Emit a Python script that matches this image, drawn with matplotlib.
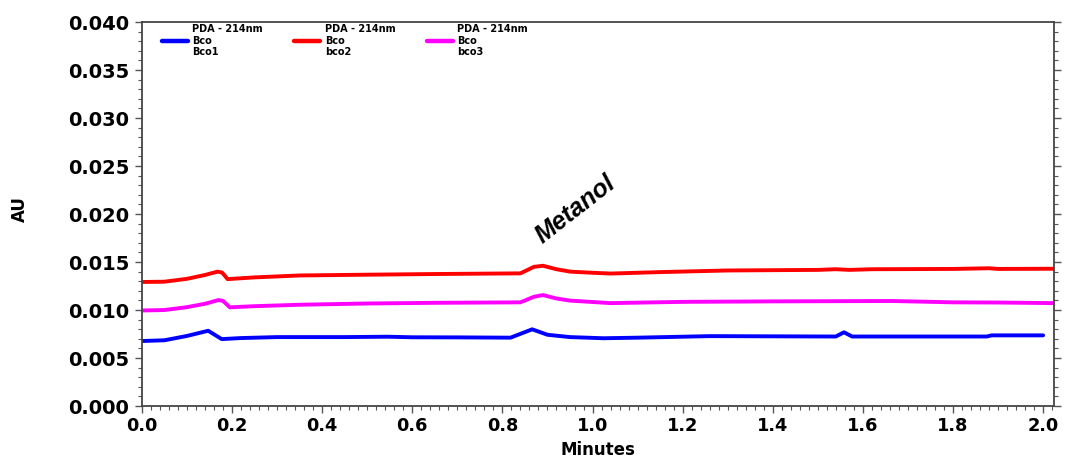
import numpy as np
import matplotlib
matplotlib.use("Agg")
import matplotlib.pyplot as plt
from matplotlib.ticker import MultipleLocator, FormatStrFormatter

# Chromatogram readings (minutes, AU)
t_bco1 = [0.00, 0.05, 0.10, 0.147, 0.177, 0.22, 0.30, 0.45, 0.545, 0.60, 0.70,
          0.818, 0.866, 0.90, 0.95, 1.024, 1.10, 1.26, 1.40, 1.54, 1.558, 1.576,
          1.70, 1.875, 1.886, 2.00]
au_bco1 = [0.00677, 0.00685, 0.00730, 0.00784, 0.00697, 0.00708, 0.00718, 0.00718,
           0.00722, 0.00716, 0.00715, 0.00712, 0.00799, 0.00742, 0.00718, 0.00706,
           0.00712, 0.00728, 0.00726, 0.00724, 0.00768, 0.00724, 0.00724, 0.00724,
           0.00736, 0.00736]

t_bco2 = [0.00, 0.05, 0.10, 0.14, 0.168, 0.178, 0.19, 0.25, 0.35, 0.50, 0.65,
          0.84, 0.87, 0.89, 0.92, 0.95, 1.00, 1.04, 1.15, 1.30, 1.50, 1.54, 1.57,
          1.62, 1.80, 1.88, 1.90, 2.024]
au_bco2 = [0.01292, 0.01295, 0.01325, 0.01365, 0.01400, 0.01390, 0.01322, 0.01340,
           0.01360, 0.01368, 0.01375, 0.01382, 0.01450, 0.01461, 0.01425, 0.01400,
           0.01388, 0.01380, 0.01395, 0.01412, 0.01418, 0.01425, 0.01418, 0.01425,
           0.01428, 0.01435, 0.01428, 0.01430]

t_bco3 = [0.00, 0.05, 0.10, 0.14, 0.17, 0.18, 0.195, 0.25, 0.35, 0.50, 0.65,
          0.84, 0.87, 0.89, 0.92, 0.95, 1.04, 1.20, 1.40, 1.665, 1.80, 1.90, 2.024]
au_bco3 = [0.00995, 0.01000, 0.01030, 0.01065, 0.01104, 0.01095, 0.01028, 0.01040,
           0.01055, 0.01068, 0.01075, 0.01080, 0.01138, 0.01156, 0.01120, 0.01098,
           0.01072, 0.01085, 0.01090, 0.01094, 0.01080, 0.01078, 0.01072]

labels = ["PDA - 214nm\nBco\nBco1", "PDA - 214nm\nBco\nbco2", "PDA - 214nm\nBco\nbco3"]
colors = ["#0000ff", "#ff0000", "#ff00ff"]

fig = plt.figure(figsize=(10.69, 4.58), dpi=100)
ax = fig.add_axes([0.1328, 0.1135, 0.8531, 0.8384])

for t, au, lab, c in zip([t_bco1, t_bco2, t_bco3], [au_bco1, au_bco2, au_bco3], labels, colors):
    ax.plot(t, au, color=c, lw=2.8, label=lab, solid_capstyle="round")

ax.set_xlim(0, 2.024)
ax.set_ylim(0, 0.040)

ax.xaxis.set_major_locator(MultipleLocator(0.2))
ax.xaxis.set_minor_locator(MultipleLocator(0.02))
ax.xaxis.set_major_formatter(FormatStrFormatter("%.1f"))
ax.yaxis.set_major_locator(MultipleLocator(0.005))
ax.yaxis.set_minor_locator(MultipleLocator(0.001))
ax.yaxis.set_major_formatter(FormatStrFormatter("%.3f"))

ax.tick_params(which="both", direction="out", color="#555555", right=True)
ax.tick_params(which="major", length=5, width=1)
ax.tick_params(which="minor", length=3, width=0.8)
ax.tick_params(axis="y", labelsize=14, pad=4)
ax.tick_params(axis="x", labelsize=12.8, pad=3)
for lbl in ax.get_xticklabels() + ax.get_yticklabels():
    lbl.set_fontweight("bold")

for sp in ax.spines.values():
    sp.set_color("#444444")
    sp.set_linewidth(1.3)

ax.set_xlabel("Minutes", fontsize=12, fontweight="bold", labelpad=4)
ax.set_ylabel("AU", fontsize=12, fontweight="bold")
ax.yaxis.set_label_coords(-0.124, 0.513)

ax.text(0.963, 0.0205, "Metanol", rotation=38, ha="center", va="center",
        fontsize=18, fontweight="bold", fontstyle="italic",
        family=["Liberation Sans Narrow", "Liberation Sans", "DejaVu Sans"])

leg = ax.legend(ncol=3, loc="upper left", bbox_to_anchor=(0.0219, 0.995),
                frameon=False, borderpad=0, borderaxespad=0,
                prop={"size": 7, "weight": "bold"},
                handlelength=2.67, handletextpad=0.46, columnspacing=3.24)
for h in leg.get_lines():
    h.set_linewidth(3.2)

fig.savefig("out.png", dpi=100)
